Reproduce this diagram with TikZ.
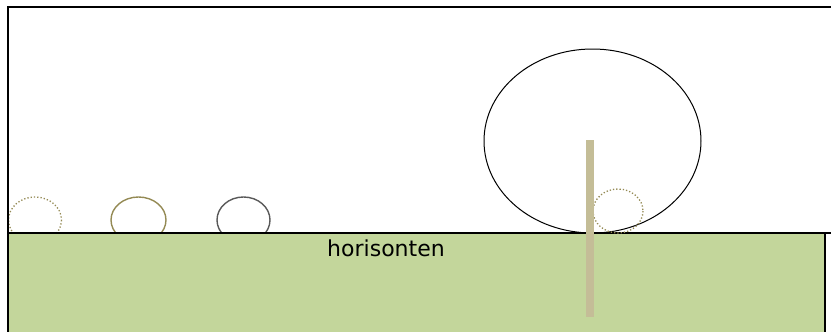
\documentclass[tikz,border=0pt]{standalone}
\usepackage{fontspec}
\newfontfamily\labelfont{DejaVu Sans}
\definecolor{grass}{HTML}{C3D69B}
\definecolor{olive}{HTML}{948A54}
\definecolor{darkgray}{HTML}{595959}
\definecolor{pole}{HTML}{C4BD97}
\begin{document}
\begin{tikzpicture}[x=1pt,y=-1pt,
  frame/.style={draw=black,line width=1.8pt},
  ball/.style={line width=1.4pt},
  dotball/.style={draw=olive,line width=1.3pt,dotted}]
\useasboundingbox (0,0) rectangle (831,332);
\begin{scope}
\clip (0,0) rectangle (831,332);
% small circles (lower halves hidden by ground)
\draw[dotball] (35,220) ellipse [x radius=26.5, y radius=23];
\draw[ball,draw=olive] (138.5,220) ellipse [x radius=27.5, y radius=23];
\draw[ball,draw=darkgray] (243.5,220) ellipse [x radius=26.5, y radius=23];
% ground
\fill[grass] (8,233) rectangle (825,340);
\draw[frame] (825,233) -- (825,340);
% frame and horizon
\draw[frame] (8,340) -- (8,7) -- (831,7);
\draw[frame] (8,233) -- (831,233);
% big ball
\draw[black,line width=1pt] (592.5,141) ellipse [x radius=108.5, y radius=92];
% small dotted ball near the pole
\draw[dotball] (618,211) ellipse [x radius=25, y radius=22];
% pole
\fill[pole] (586,140) rectangle (594,317);
\end{scope}
\node[font=\labelfont\fontsize{22}{26}\selectfont, anchor=base] (lbl) at (386,256) {horisonten};
\end{tikzpicture}
\end{document}
